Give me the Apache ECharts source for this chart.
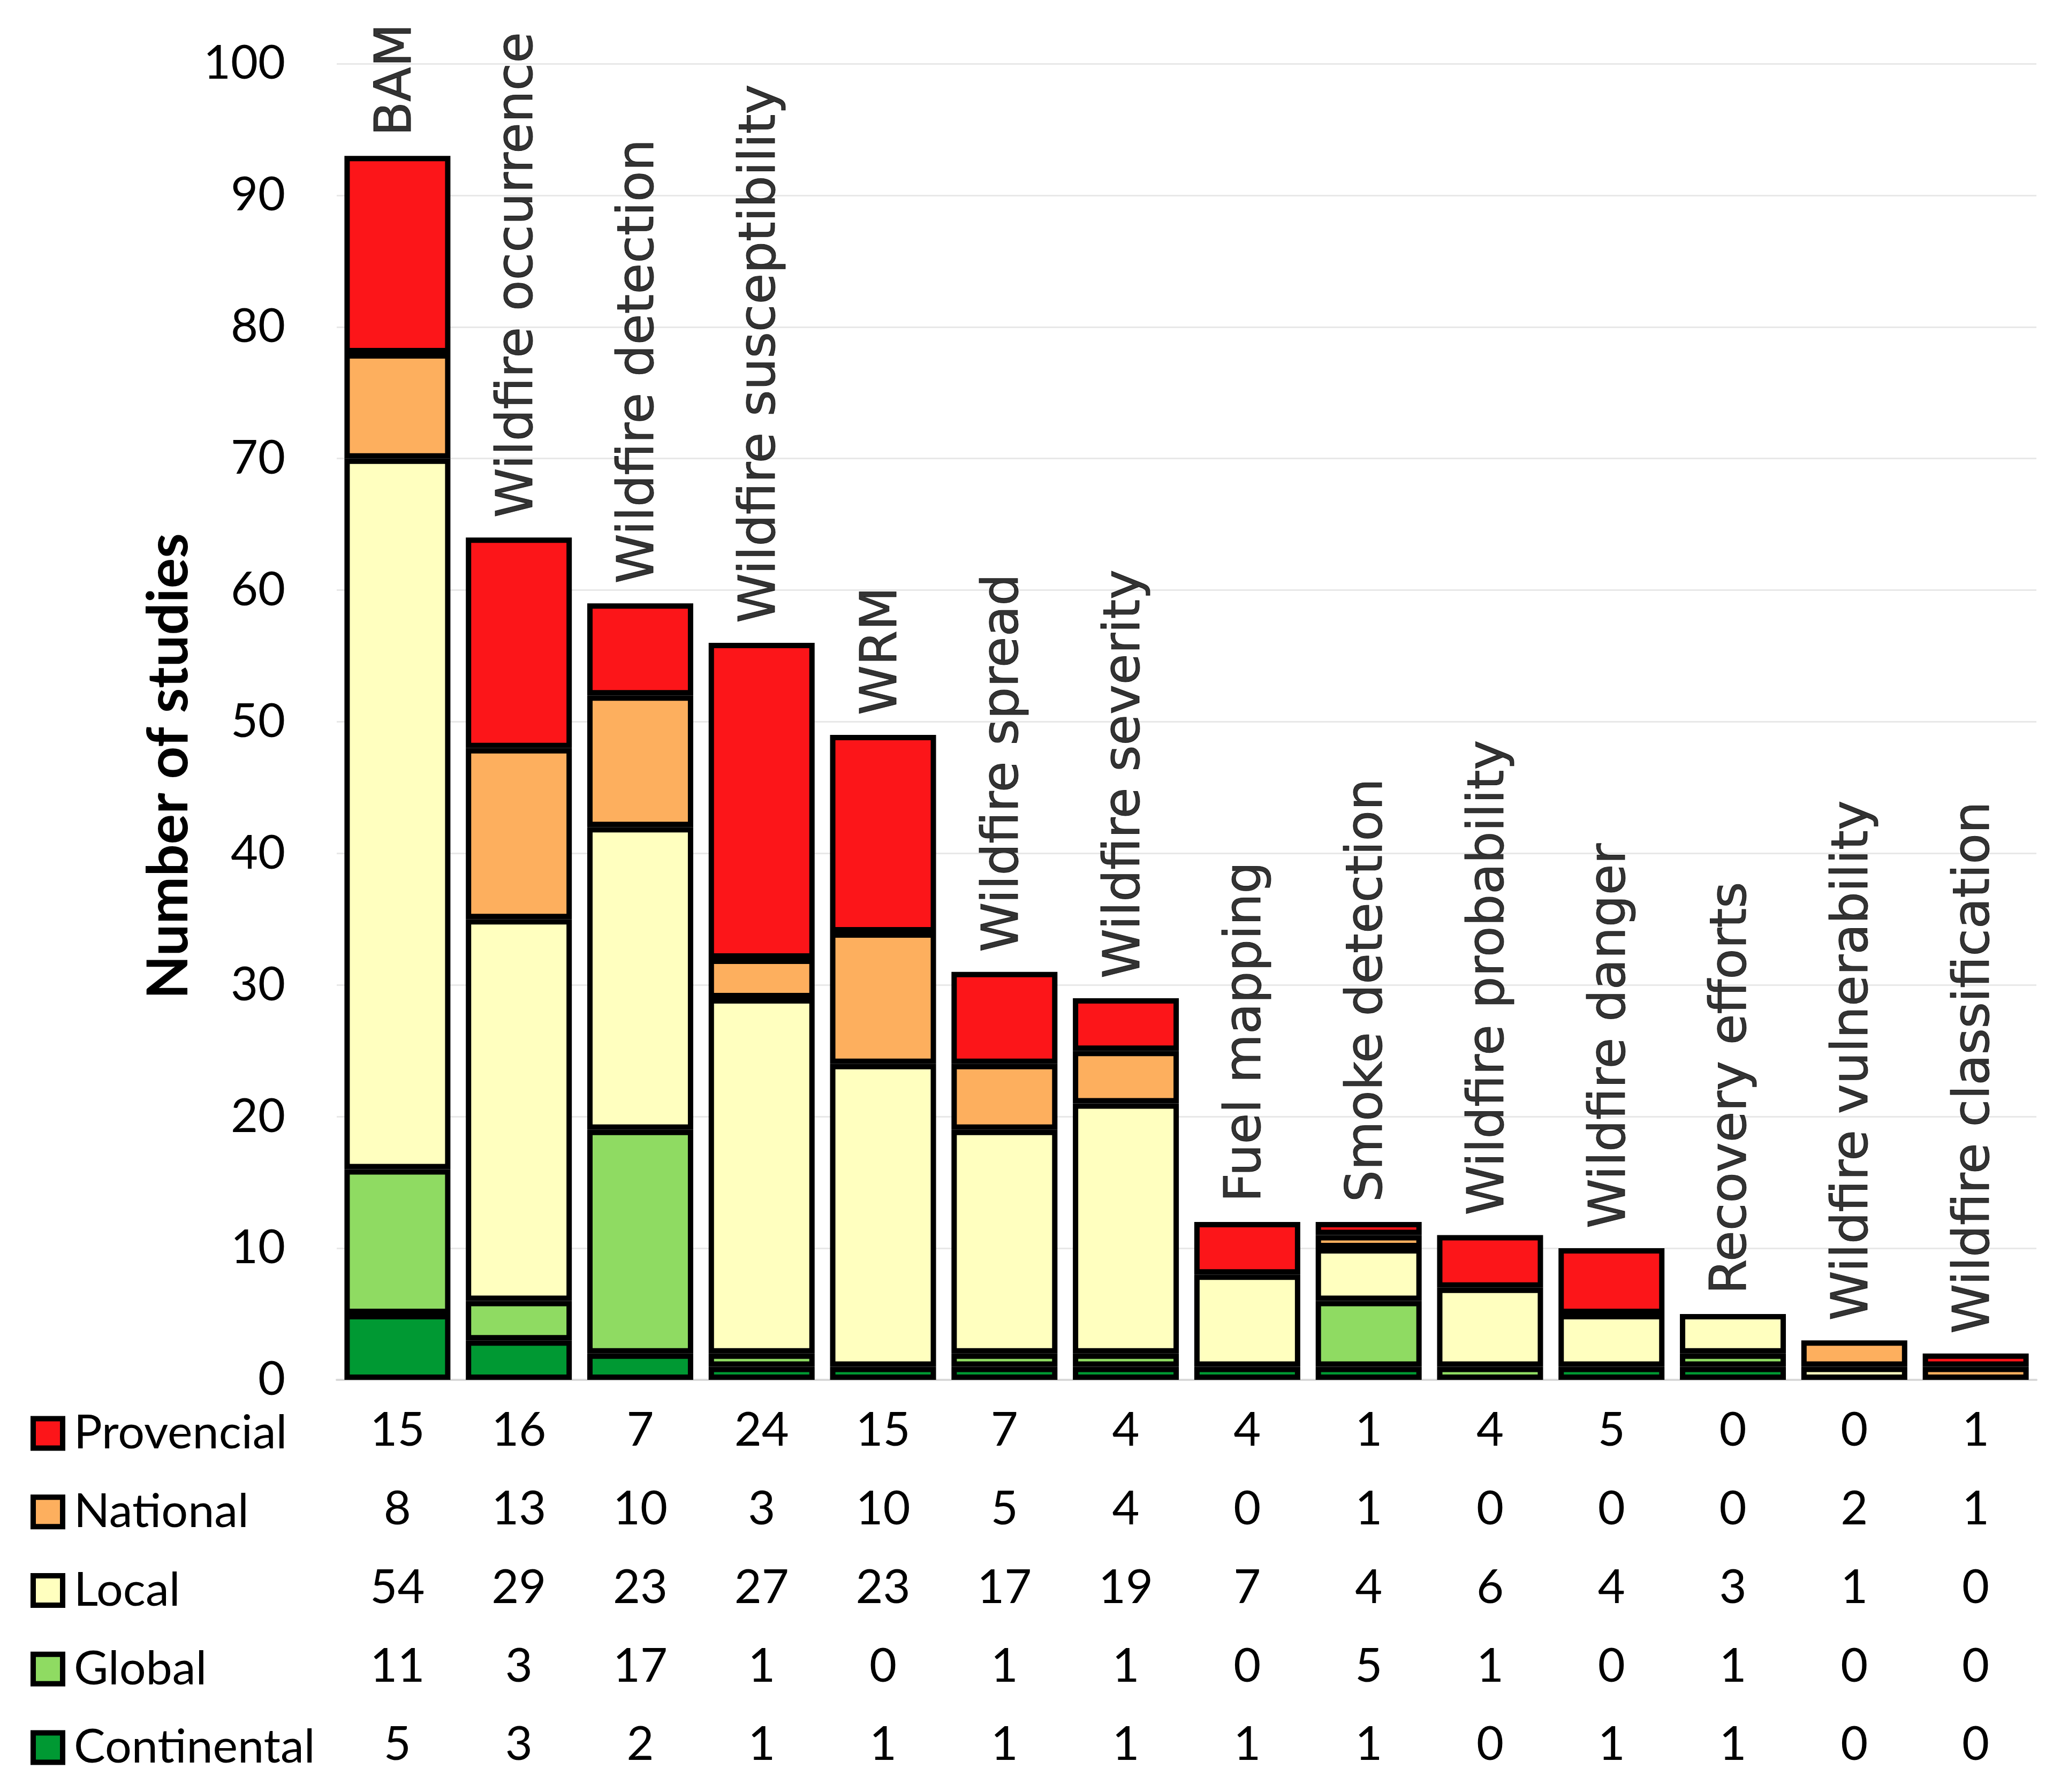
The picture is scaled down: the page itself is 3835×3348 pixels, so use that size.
<!DOCTYPE html>
<html>
<head>
<meta charset="utf-8">
<script src="https://cdn.jsdelivr.net/npm/echarts@6/dist/echarts.min.js"></script>
<style>
html,body{margin:0;padding:0;background:#fff;}
#chart{width:3835px;height:3348px;}
</style>
</head>
<body>
<div id="chart"></div>
<script>
const categories = ["BAM","Wildfire occurrence","Wildfire detection","Wildfire susceptibility","WRM","Wildfire spread","Wildfire severity","Fuel mapping","Smoke detection","Wildfire probability","Wildfire danger","Recovery efforts","Wildfire vulnerability","Wildfire classification"];
const provencial  = [15,16,7,24,15,7,4,4,1,4,5,0,0,1];
const national    = [8,13,10,3,10,5,4,0,1,0,0,0,2,1];
const local       = [54,29,23,27,23,17,19,7,4,6,4,3,1,0];
const global      = [11,3,17,1,0,1,1,0,5,1,0,1,0,0];
const continental = [5,3,2,1,1,1,1,1,1,0,1,1,0,0];
const yTicks = [0,10,20,30,40,50,60,70,80,90,100];

const colors = {
  Provencial: '#FC1519',
  National: '#FDAF5E',
  Local: '#FFFFBF',
  Global: '#8FDB62',
  Continental: '#009933'
};

const totals = categories.map((c,i)=>provencial[i]+national[i]+local[i]+global[i]+continental[i]);

const numFont = 'Lato, "Open Sans", sans-serif';
const catFont = '"DejaVu Sans", Verdana, sans-serif';

const rows = [
  {name:'Provencial', data:provencial},
  {name:'National', data:national},
  {name:'Local', data:local},
  {name:'Global', data:global},
  {name:'Continental', data:continental}
];

const gridTop = 119;
const axisY0 = 2578;
const rowStep = 146.75;
const rowLine = 100;
const firstRowCenter = 2673;

const xAxes = [{
  type:'category', data:categories, gridIndex:0,
  axisLine:{show:true, lineStyle:{color:'#d9d9d9', width:4}},
  axisTick:{show:false},
  axisLabel:{show:false}
}];
rows.forEach((r,k)=>{
  xAxes.push({
    type:'category', data:categories, gridIndex:0, position:'bottom',
    offset: firstRowCenter + k*rowStep - axisY0,
    axisLine:{show:false}, axisTick:{show:false}, splitLine:{show:false},
    axisLabel:{
      show:true, interval:0, margin:0,
      fontFamily:numFont, fontSize:88, lineHeight:rowLine, color:'#000',
      verticalAlign:'middle',
      formatter:(v,i)=>String(r.data[i])
    }
  });
});

const stackOrder = [
  {name:'Continental', data:continental},
  {name:'Global', data:global},
  {name:'Local', data:local},
  {name:'National', data:national},
  {name:'Provencial', data:provencial}
];

const series = stackOrder.map(s=>({
  name:s.name, type:'bar', stack:'total',
  data:s.data.map(v=>v===0?null:v),
  xAxisIndex:0, yAxisIndex:0,
  barCategoryGap:'12.7%',
  itemStyle:{color:colors[s.name], borderColor:'#000', borderWidth:10},
  emphasis:{disabled:true}
}));

series.push({
  name:'labels', type:'scatter', data:totals, xAxisIndex:0, yAxisIndex:0,
  symbolSize:2, itemStyle:{color:'rgba(0,0,0,0)'}, silent:true, z:10,
  label:{
    show:true, position:'top', distance:36, rotate:90,
    align:'left', verticalAlign:'middle',
    fontFamily:catFont, fontSize:94, color:'#000',
    textBorderColor:'#000', textBorderWidth:1,
    formatter:p=>categories[p.dataIndex]
  },
  labelLayout:{hideOverlap:false}
});

const chart = echarts.init(document.getElementById('chart'), null, {renderer:'canvas'});
chart.setOption({
  animation:false,
  backgroundColor:'#fff',
  grid:{left:629, right:31, top:gridTop, bottom:3348-axisY0, containLabel:false},
  legend:{
    data:['Provencial','National','Local','Global','Continental'],
    orient:'vertical', left:52, top:firstRowCenter - rowLine/2,
    itemWidth:55, itemHeight:55, itemGap:rowStep-rowLine,
    icon:'rect',
    itemStyle:{borderColor:'#000', borderWidth:10},
    textStyle:{fontFamily:numFont, fontSize:88, lineHeight:rowLine, color:'#000', padding:[0,0,0,16]},
    selectedMode:false
  },
  xAxis:xAxes,
  yAxis:{
    type:'value', min:yTicks[0], max:yTicks[yTicks.length-1], interval:10,
    name:'Number of studies', nameLocation:'middle', nameGap:258,
    nameTextStyle:{fontFamily:numFont, fontSize:106, fontWeight:'bold', color:'#000', padding:[0,166,0,0]},
    axisLine:{show:false}, axisTick:{show:false},
    axisLabel:{fontFamily:numFont, fontSize:88, color:'#000', margin:96},
    splitLine:{show:true, lineStyle:{color:'#e8e8e8', width:3}}
  },
  series:series
});
</script>
</body>
</html>
